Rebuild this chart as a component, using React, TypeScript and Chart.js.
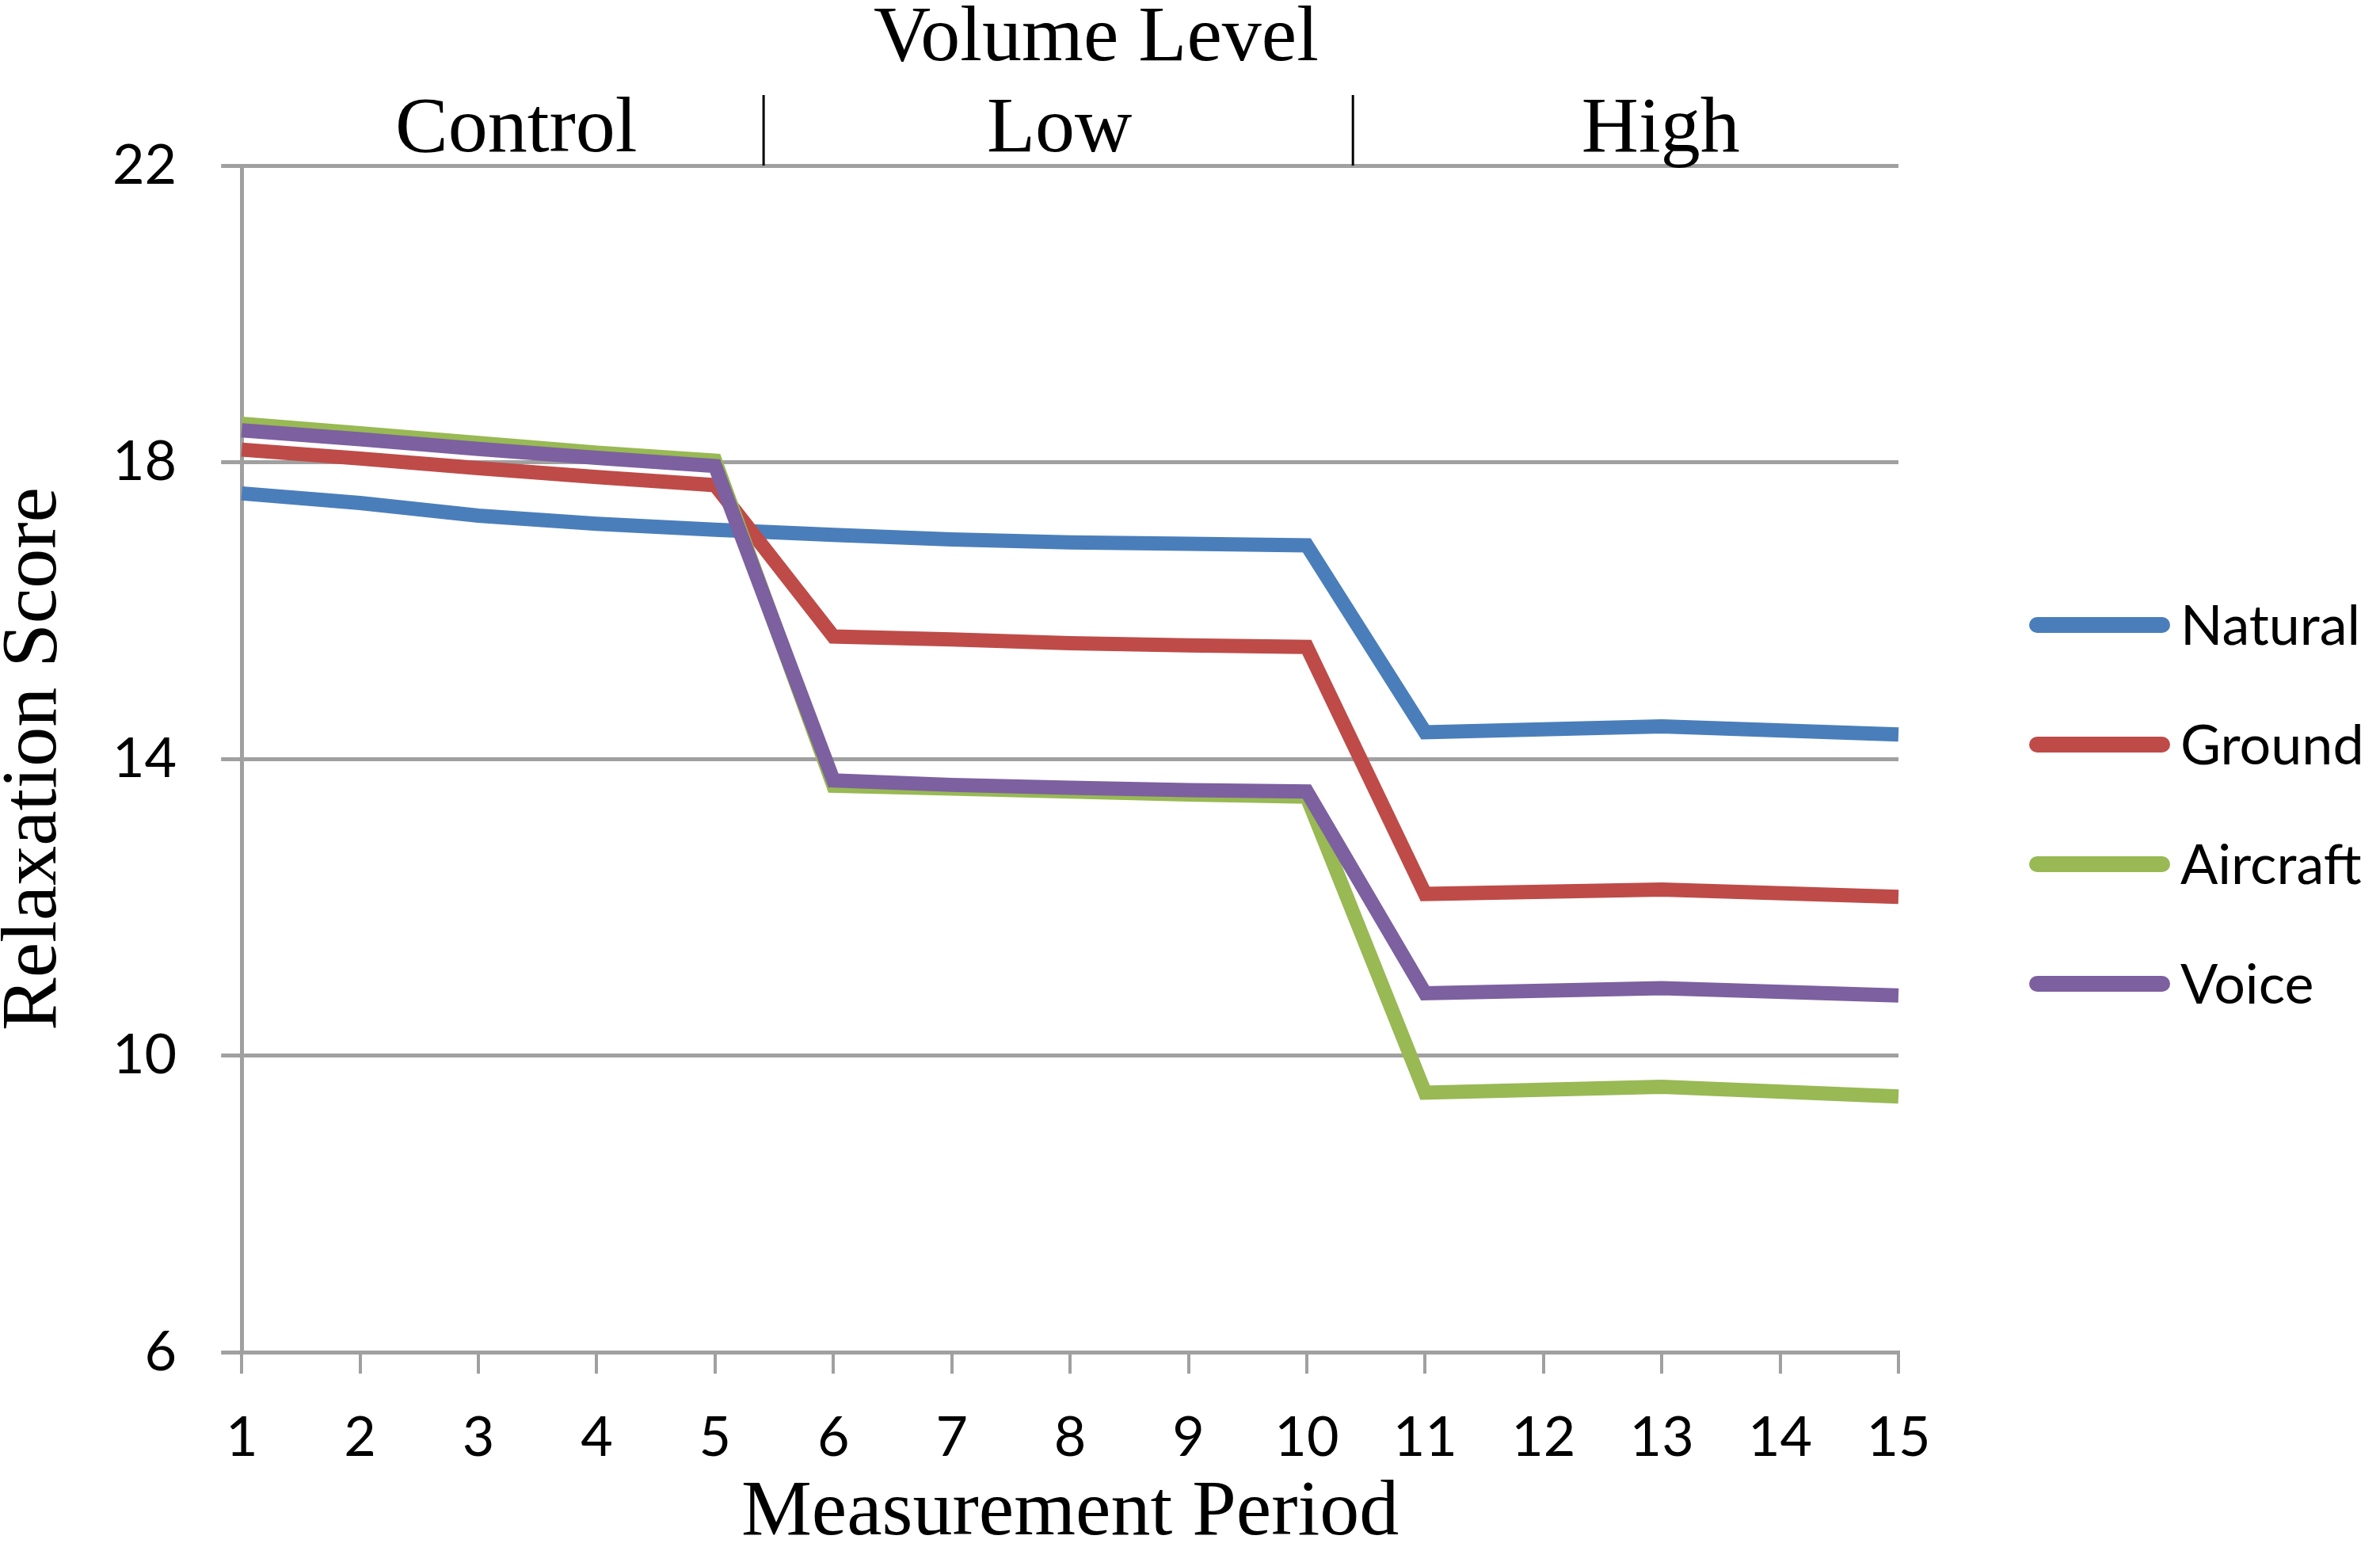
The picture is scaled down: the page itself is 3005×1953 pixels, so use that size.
import { useEffect, useRef } from "react";
import { Chart, registerables } from "chart.js";

Chart.register(...registerables);

// measurement periods on the x axis (12 and 14 have no measurements, lines span them)
const periods = ["1", "2", "3", "4", "5", "6", "7", "8", "9", "10", "11", "12", "13", "14", "15"];

const natural = [17.58, 17.45, 17.28, 17.17, 17.09, 17.02, 16.96, 16.92, 16.9, 16.88, 14.36, null, 14.44, null, 14.33];
const ground = [18.17, 18.05, 17.92, 17.8, 17.69, 15.65, 15.61, 15.56, 15.53, 15.51, 12.18, null, 12.24, null, 12.14];
const aircraft = [18.52, 18.39, 18.26, 18.13, 18.02, 13.64, 13.6, 13.56, 13.52, 13.49, 9.5, null, 9.58, null, 9.45];
const voice = [18.43, 18.31, 18.18, 18.06, 17.95, 13.71, 13.65, 13.61, 13.58, 13.56, 10.84, null, 10.91, null, 10.81];

const seriesNames = ["Natural", "Ground", "Aircraft", "Voice"];
const seriesValues = [natural, ground, aircraft, voice];
const seriesColors = ["#4a7ebb", "#be4b48", "#98b954", "#7d60a0"];

const volumeLevels = ["Control", "Low", "High"];

const GRID = "#a0a0a0";
const SERIF = "'Liberation Serif', 'Times New Roman', serif";
const SANS = "Lato, 'Open Sans', sans-serif";

// header above the plot: "Volume Level" + the three levels with divider ticks
const volumeHeader = {
  id: "volumeHeader",
  afterDraw(chart: Chart) {
    const { ctx, chartArea } = chart;
    const x = chart.scales.x;
    const top = chartArea.top;
    const centers = [2.32, 6.91, 11.99]; // in category index units
    const dividers = [4.41, 9.39];
    ctx.save();
    ctx.fillStyle = "#000";
    ctx.font = `100px ${SERIF}`;
    ctx.textAlign = "center";
    ctx.textBaseline = "alphabetic";
    ctx.fillText("Volume Level", x.getPixelForValue(7.22), top - 133);
    volumeLevels.forEach((lvl, i) => {
      ctx.fillText(lvl, x.getPixelForValue(centers[i]), top - 18);
    });
    ctx.strokeStyle = "#000";
    ctx.lineWidth = 3;
    dividers.forEach((d) => {
      const px = x.getPixelForValue(d);
      ctx.beginPath();
      ctx.moveTo(px, top - 89);
      ctx.lineTo(px, top);
      ctx.stroke();
    });
    ctx.restore();
  },
};

// Excel-like legend on the right: thick rounded line sample + label
const sideLegend = {
  id: "sideLegend",
  afterDraw(chart: Chart) {
    const { ctx, chartArea } = chart;
    ctx.save();
    ctx.font = `70px ${SANS}`;
    ctx.textAlign = "left";
    ctx.textBaseline = "middle";
    chart.data.datasets.forEach((ds, i) => {
      const y = chartArea.top + 580 + i * 151;
      ctx.strokeStyle = ds.borderColor as string;
      ctx.lineWidth = 20;
      ctx.lineCap = "round";
      ctx.beginPath();
      ctx.moveTo(chartArea.right + 175, y);
      ctx.lineTo(chartArea.right + 333, y);
      ctx.stroke();
      ctx.fillStyle = "#000";
      ctx.fillText(ds.label as string, chartArea.right + 356, y + 2);
    });
    ctx.restore();
  },
};

const RelaxationChart = () => {
  const chartRef = useRef<HTMLCanvasElement | null>(null);

  useEffect(() => {
    if (!chartRef.current) return;
    const chartInstance = new Chart(chartRef.current, {
      type: "line",
      data: {
        labels: periods,
        datasets: seriesNames.map((name, i) => ({
          label: name,
          data: seriesValues[i],
          borderColor: seriesColors[i],
          backgroundColor: seriesColors[i],
          borderWidth: 18,
          pointRadius: 0,
          tension: 0,
          spanGaps: true,
          order: seriesNames.length - i, // later series on top, like Excel
        })),
      },
      options: {
        animation: false,
        responsive: true,
        maintainAspectRatio: false,
        devicePixelRatio: 1,
        layout: { padding: { top: 209, right: 608, bottom: 0, left: 0 } },
        plugins: {
          legend: { display: false },
          tooltip: { enabled: false },
        },
        scales: {
          x: {
            offset: false,
            grid: {
              drawOnChartArea: false,
              color: GRID,
              lineWidth: 4,
              tickLength: 27,
            },
            border: { color: GRID, width: 5 },
            ticks: {
              color: "#000",
              padding: 46,
              maxRotation: 0,
              autoSkip: false,
              font: { family: SANS, size: 70, lineHeight: 1 },
            },
            title: {
              display: true,
              text: "Measurement Period",
              color: "#000",
              padding: { top: 0, bottom: 28 },
              font: { family: SERIF, size: 100, lineHeight: 0.288 },
            },
          },
          y: {
            min: 6,
            max: 22,
            grid: { color: GRID, lineWidth: 5, tickLength: 26 },
            border: { color: GRID, width: 5 },
            ticks: {
              stepSize: 4,
              color: "#000",
              padding: 56,
              font: { family: SANS, size: 70, lineHeight: 1 },
            },
            title: {
              display: true,
              text: "Relaxation Score",
              color: "#000",
              padding: { top: 1, bottom: 0 },
              font: { family: SERIF, size: 100, lineHeight: 0.85 },
            },
          },
        },
      },
      plugins: [volumeHeader, sideLegend],
    });

    return () => {
      chartInstance.destroy();
    };
  }, []);

  return (
    <div style={{ position: "absolute", left: 0, top: 0, width: 3005, height: 1953, background: "#fff" }}>
      <canvas ref={chartRef}></canvas>
    </div>
  );
};

export default function App() {
  return <RelaxationChart />;
}
